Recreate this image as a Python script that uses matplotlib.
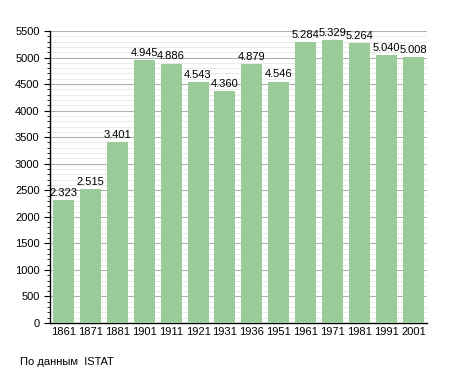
import matplotlib
matplotlib.use("Agg")
import matplotlib.pyplot as plt
from matplotlib.ticker import MultipleLocator

years = ["1861", "1871", "1881", "1901", "1911", "1921", "1931", "1936",
         "1951", "1961", "1971", "1981", "1991", "2001"]
population = [2323, 2515, 3401, 4945, 4886, 4543, 4360, 4879,
              4546, 5284, 5329, 5264, 5040, 5008]

plt.rcParams['font.family'] = ['Liberation Sans', 'DejaVu Sans']

fig = plt.figure(figsize=(4.55, 3.73), dpi=100)
ax = fig.add_axes([0.110, 0.134, 0.828, 0.783])

x = range(len(years))
ax.bar(x, population, width=0.78, color='#99cc99', zorder=3)

for i, v in enumerate(population):
    ax.text(i, v + 40, f"{v:,}".replace(",", "."), ha='center', va='bottom',
            fontsize=8, zorder=4)

ax.set_xlim(-0.5, len(years) - 0.5)
ax.set_ylim(0, 5500)
ax.set_xticks(list(x))
ax.set_xticklabels(years, fontsize=8)
ax.yaxis.set_major_locator(MultipleLocator(500))
ax.yaxis.set_minor_locator(MultipleLocator(100))
ax.tick_params(axis='y', labelsize=8, length=4, direction='out')
ax.tick_params(axis='y', which='minor', length=2)
ax.tick_params(axis='x', length=0, pad=3)

ax.grid(axis='y', which='major', color='#b0b0b0', linewidth=0.8, zorder=0)
ax.grid(axis='y', which='minor', color='#e8e8e8', linewidth=0.6, zorder=0)

for s in ['top', 'right']:
    ax.spines[s].set_visible(False)
ax.spines['left'].set_linewidth(1.0)
ax.spines['bottom'].set_linewidth(1.0)

fig.text(20 / 455, 1 - 362 / 373, "По данным  ISTAT", fontsize=8, va='center')

fig.savefig("out.png", dpi=100)
